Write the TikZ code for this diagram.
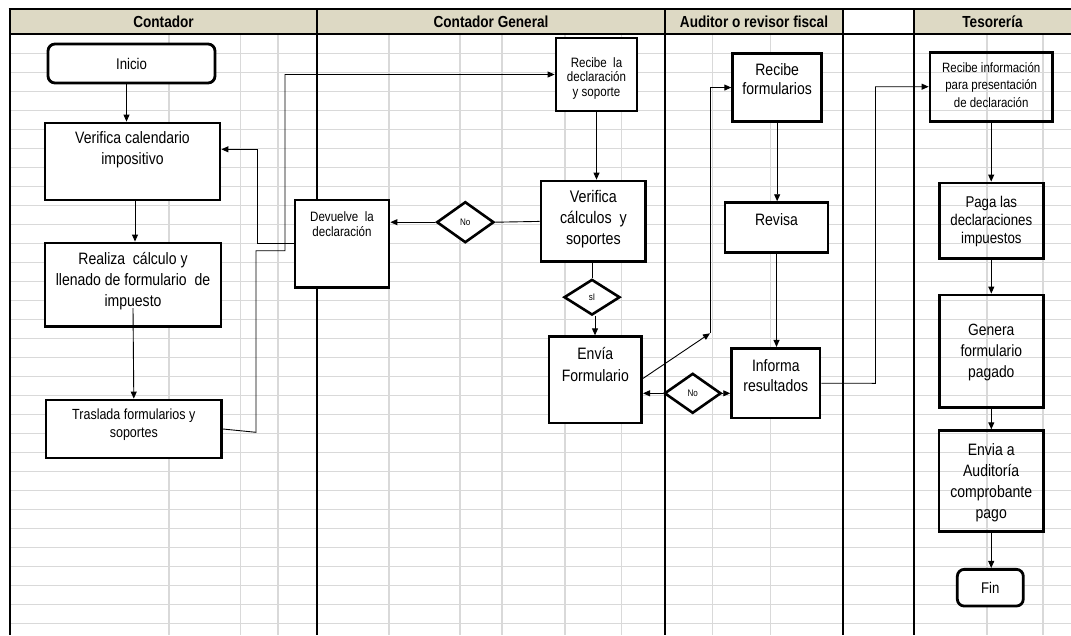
\documentclass[tikz,border=0pt]{standalone}
\usepackage{fontspec}
\setmainfont{Liberation Sans}[FakeStretch=0.85]
\usetikzlibrary{arrows.meta,shapes.geometric}
\definecolor{hdr}{RGB}{221,217,196}
\definecolor{gridc}{RGB}{217,217,217}
\begin{document}
\begin{tikzpicture}[x=1pt,y=-1pt,
  box/.style={draw, line width=2.8pt, inner sep=0pt},
  boxw/.style={box, fill=white},
  rbox/.style={boxw, rounded corners=7pt},
  dia/.style={diamond, draw, fill=white, line width=2.6pt, inner sep=0pt, font=\fontsize{9.5}{11}\selectfont},
  tL/.style={font=\fontsize{16.5}{20.5}\selectfont, align=center, inner sep=0pt},
  tS/.style={font=\fontsize{13.6}{15.3}\selectfont, align=center, inner sep=0pt},
  hd/.style={font=\bfseries\fontsize{16}{19}\selectfont, inner sep=0pt, anchor=base},
  conn/.style={draw, line width=0.9pt},
  arr/.style={conn, -{Triangle[width=6pt,length=7pt]}},
  gl/.style={draw=gridc, line width=1.6pt},
  lane/.style={draw=black, line width=1.3pt}
]
\useasboundingbox (0,0) rectangle (1071,635);
% grid
\foreach \k in {1,...,31} \draw[gl] (10,{34.3+19*\k}) -- (1071,{34.3+19*\k});
\foreach \x in {168.7,240.4,278,389,459.7,502,565,621.6,712.4,770.5,987,1043} \draw[gl] (\x,34) -- (\x,635);
% header
\fill[hdr] (10,9) rectangle (843,34);
\fill[hdr] (914,9) rectangle (1071,34);
\foreach \x in {317,665,843,914} \draw[lane] (\x,9) -- (\x,635);
\draw[line width=1.3pt] (10,34) -- (1071,34);
\draw[line width=2.6pt] (8.7,9) -- (1071,9);
\draw[line width=2.6pt] (10,9) -- (10,635);
\node[hd] (h1) at (163.5,27.5) {Contador};
\node[hd] (h2) at (491,27.5) {Contador General};
\node[hd] (h3) at (754,27.5) {Auditor o revisor fiscal};
\node[hd] (h4) at (992.5,27.5) {Tesorería};
% Contador lane
\node[rbox, minimum width=167pt, minimum height=39pt, font=\fontsize{15.5}{18}\selectfont] (inicio) at (131.5,63.5) {Inicio};
\node[boxw, minimum width=175pt, minimum height=77pt] (verif) at (132.5,161.5) {};
\node[tL] (verifT) at (132.5,149.5) {Verifica calendario\\impositivo};
\node[boxw, minimum width=176pt, minimum height=83.7pt] (realiza) at (133,284.8) {};
\node[tL, font=\fontsize{16.5}{21}\selectfont] (realizaT) at (133,281.3) {Realiza\ \ cálculo y\\llenado de formulario\ \ de\\impuesto};
\node[boxw, minimum width=175.7pt, minimum height=58pt] (traslada) at (133.8,429) {};
\node[tS, font=\fontsize{14.7}{18}\selectfont] (trasladaT) at (133.8,425) {Traslada formularios y\\soportes};
\node[boxw, minimum width=94pt, minimum height=87.7pt] (devuelve) at (342,243.9) {};
\node[tS] (devuelveT) at (342,224.3) {Devuelve\ \ la\\declaración};
% Contador General lane
\node[boxw, minimum width=81pt, minimum height=73pt] (recibeD) at (596.5,74.5) {};
\node[tS, font=\fontsize{13.6}{14.5}\selectfont] (recibeDT) at (596.5,78.2) {Recibe\ \ la\\declaración\\y soporte};
\node[boxw, minimum width=104.7pt, minimum height=80.7pt] (verC) at (593.4,221.4) {};
\node[tL, font=\fontsize{16.8}{21}\selectfont] (verCT) at (593.4,219) {Verifica\\cálculos\ \ y\\soportes};
\node[dia, minimum width=57.3pt, minimum height=41pt] (dNo1) at (465.3,222.2) {No};
\node[dia, minimum width=56pt, minimum height=35.7pt] (dSi) at (592,297.2) {sI};
\node[boxw, minimum width=92.7pt, minimum height=86.3pt] (envia) at (595.3,379.9) {};
\node[tL, font=\fontsize{16.5}{22}\selectfont] (enviaT) at (595.3,364.5) {Envía\\Formulario};
% Auditor lane
\node[boxw, minimum width=88.9pt, minimum height=68.1pt] (recibeF) at (777.15,87.55) {};
\node[tL, font=\fontsize{16.5}{18.5}\selectfont] (recibeFT) at (777.15,79.3) {Recibe\\formularios};
\node[boxw, minimum width=103pt, minimum height=49.5pt] (revisa) at (776.5,227.4) {};
\node[tL] (revisaT) at (776.5,220) {Revisa};
\node[boxw, minimum width=88.3pt, minimum height=69.7pt] (informa) at (775.8,383.2) {};
\node[tL, font=\fontsize{16.5}{20}\selectfont] (informaT) at (775.8,376) {Informa\\resultados};
\node[dia, minimum width=56.7pt, minimum height=40pt] (dNo2) at (692.7,393.3) {No};
% Tesoreria lane
\node[box, minimum width=122.3pt, minimum height=69pt] (recibeI) at (991.2,86.7) {};
\node[tS, font=\fontsize{13.5}{17.3}\selectfont] (recibeIT) at (991.2,84.8) {Recibe información\\para presentación\\de declaración};
\node[box, minimum width=104pt, minimum height=75.6pt] (paga) at (991.3,220.8) {};
\node[tL, font=\fontsize{15.6}{18}\selectfont] (pagaT) at (991.3,221) {Paga las\\declaraciones\\impuestos};
\node[box, minimum width=104pt, minimum height=112.7pt] (genera) at (991.3,351.3) {};
\node[tL, font=\fontsize{16.3}{21}\selectfont] (generaT) at (991.3,352.5) {Genera\\formulario\\pagado};
\node[box, minimum width=104.3pt, minimum height=101pt] (enviaA) at (991.2,481.2) {};
\node[tL, font=\fontsize{16.5}{20.8}\selectfont] (enviaAT) at (991.2,482.8) {Envia a\\Auditoría\\comprobante\\pago};
\node[rbox, minimum width=66pt, minimum height=36.7pt, font=\fontsize{15.5}{18}\selectfont] (fin) at (990.3,587.7) {Fin};
% connectors
\draw[arr] ([xshift=-5pt]inicio.south) -- ([xshift=-5pt]inicio.south |- verif.north);
\draw[arr] ([xshift=2.5pt]verif.south) -- ([xshift=2.5pt]verif.south |- realiza.north);
\draw[arr] ([yshift=20pt]realiza.south) -- (traslada.north);
\coordinate (t1) at (256,432.3);
\coordinate (t2) at (256,250.7);
\coordinate (t3) at (285,250.7);
\draw[arr] (traslada.east) -- (t1) -- (t2) -- (t3) |- (recibeD.west);
\coordinate (v1) at (257,243.9);
\coordinate (v2) at (257,149.3);
\draw[arr] (devuelve.west) -- (v1) -- (v2) -- (v2 -| verif.east);
\draw[arr] (recibeD.south) -- (recibeD.south |- verC.north);
\draw[conn] (verC.west) -- (dNo1.east);
\draw[arr] (dNo1.west) -- (dNo1.west -| devuelve.east);
\draw[conn] (dSi.north |- verC.south) -- (dSi.north);
\draw[arr] ([xshift=3pt]dSi.south) -- ([xshift=3pt]dSi.south |- envia.north);
\coordinate (c1) at (710,333.3);
\draw[arr] ([yshift=1.5pt]envia.east) -- (c1);
\draw[arr] (c1) |- (recibeF.west);
\draw[arr] (recibeF.south) -- (recibeF.south |- revisa.north);
\draw[arr] (revisa.south) -- (revisa.south |- informa.north);
\draw[arr] (dNo2.east) -- (dNo2.east -| informa.west);
\draw[arr] (dNo2.west) -- (dNo2.west -| envia.east);
\coordinate (i1) at (875.5,383.3);
\draw[arr] (informa.east) -- (i1) |- (recibeI.west);
\draw[arr] (recibeI.south) -- (recibeI.south |- paga.north);
\draw[arr] (paga.south) -- (paga.south |- genera.north);
\draw[arr] (genera.south) -- (genera.south |- enviaA.north);
\draw[arr] (enviaA.south) -- (enviaA.south |- fin.north);
\end{tikzpicture}
\end{document}
